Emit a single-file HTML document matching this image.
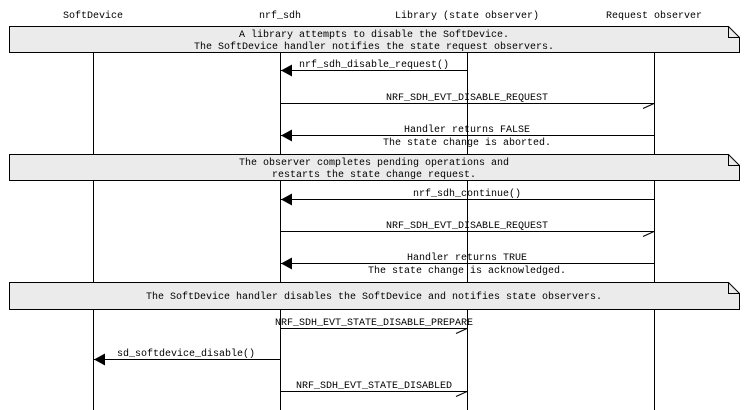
<!DOCTYPE html>
<html><head><meta charset="utf-8"><style>
html,body{margin:0;padding:0;background:#fff;}
svg{display:block;}
text{font-family:"Liberation Mono",monospace;font-size:10px;fill:#000;}
</style></head><body>
<svg width="748" height="410" viewBox="0 0 748 410" xmlns="http://www.w3.org/2000/svg">
<g text-anchor="middle">
<text x="93" y="18">SoftDevice</text>
<text x="280" y="18">nrf_sdh</text>
<text x="467" y="18">Library (state observer)</text>
<text x="654" y="18">Request observer</text>
</g>
<g stroke="#000" stroke-width="1">
<line x1="93.5" y1="52" x2="93.5" y2="410"/>
<line x1="280.5" y1="52" x2="280.5" y2="410"/>
<line x1="467.5" y1="52" x2="467.5" y2="410"/>
<line x1="654.5" y1="52" x2="654.5" y2="410"/>
</g>
<!-- notes -->
<g stroke="#000" stroke-width="1" fill="#ebebeb">
<path d="M9.5 26.5 H728.5 L739.5 37.5 V52.5 H9.5 Z"/>
<path d="M728.5 26.5 V37.5 H739.5" fill="none"/>
<path d="M9.5 154.5 H728.5 L739.5 165.5 V180.5 H9.5 Z"/>
<path d="M728.5 154.5 V165.5 H739.5" fill="none"/>
<path d="M9.5 282.5 H728.5 L739.5 293.5 V309.5 H9.5 Z"/>
<path d="M728.5 282.5 V293.5 H739.5" fill="none"/>
</g>
<g text-anchor="middle">
<text x="374" y="37">A library attempts to disable the SoftDevice.</text>
<text x="374" y="49">The SoftDevice handler notifies the state request observers.</text>
<text x="374" y="165">The observer completes pending operations and</text>
<text x="374" y="177">restarts the state change request.</text>
<text x="374" y="299">The SoftDevice handler disables the SoftDevice and notifies state observers.</text>
</g>
<!-- arrows -->
<g stroke="#000" stroke-width="1">
<line x1="280" y1="70.5" x2="467" y2="70.5"/>
<line x1="280" y1="103.5" x2="654" y2="103.5"/>
<line x1="643" y1="108.5" x2="654" y2="103.5"/>
<line x1="280" y1="135.5" x2="654" y2="135.5"/>
<line x1="280" y1="199.5" x2="654" y2="199.5"/>
<line x1="280" y1="231.5" x2="654" y2="231.5"/>
<line x1="643" y1="236.5" x2="654" y2="231.5"/>
<line x1="280" y1="263.5" x2="654" y2="263.5"/>
<line x1="280" y1="328.5" x2="467" y2="328.5"/>
<line x1="456" y1="333.5" x2="467" y2="328.5"/>
<line x1="93" y1="359.5" x2="280" y2="359.5"/>
<line x1="280" y1="391.5" x2="467" y2="391.5"/>
<line x1="456" y1="396.5" x2="467" y2="391.5"/>
</g>
<g fill="#000">
<polygon points="281,70.5 292,64.5 292,76.5"/>
<polygon points="281,135.5 292,129.5 292,141.5"/>
<polygon points="281,199.5 292,193.5 292,205.5"/>
<polygon points="281,263.5 292,257.5 292,269.5"/>
<polygon points="94,359.5 105,353.5 105,365.5"/>
</g>
<g text-anchor="middle">
<text x="374" y="67">nrf_sdh_disable_request()</text>
<text x="467" y="100">NRF_SDH_EVT_DISABLE_REQUEST</text>
<text x="467" y="132">Handler returns FALSE</text>
<text x="467" y="145">The state change is aborted.</text>
<text x="467" y="196">nrf_sdh_continue()</text>
<text x="467" y="228">NRF_SDH_EVT_DISABLE_REQUEST</text>
<text x="467" y="260">Handler returns TRUE</text>
<text x="467" y="273">The state change is acknowledged.</text>
<text x="374" y="325">NRF_SDH_EVT_STATE_DISABLE_PREPARE</text>
<text x="186" y="356">sd_softdevice_disable()</text>
<text x="374" y="388">NRF_SDH_EVT_STATE_DISABLED</text>
</g>
</svg>
</body></html>
